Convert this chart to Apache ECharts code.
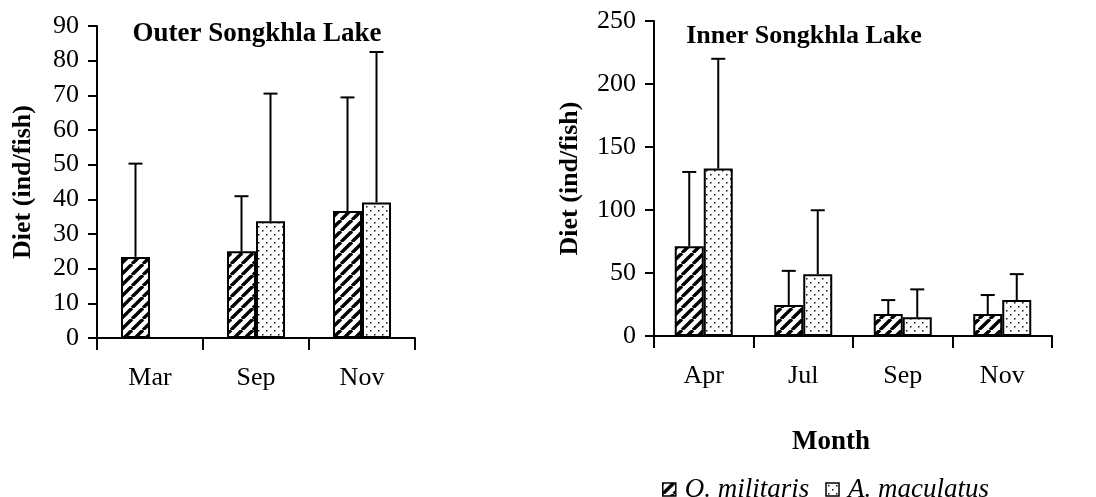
<!DOCTYPE html>
<html>
<head>
<meta charset="utf-8">
<script src="https://cdn.jsdelivr.net/npm/echarts@6/dist/echarts.min.js"></script>
<style>
html,body{margin:0;padding:0;background:#fff;}
#chart{width:1096px;height:497px;}
</style>
</head>
<body>
<div id="chart"></div>
<script>
// ---- Data ----
const leftCategories = ['Mar', 'Sep', 'Nov'];
const leftMilitaris = [23.4, 25.0, 36.6];
const leftMilitarisUpper = [50.3, 40.9, 69.4];
const leftMaculatus = [null, 33.7, 39.1];
const leftMaculatusUpper = [null, 70.5, 82.5];

const rightCategories = ['Apr', 'Jul', 'Sep', 'Nov'];
const rightMilitaris = [71.3, 24.6, 17.4, 17.4];
const rightMilitarisUpper = [130.2, 51.7, 28.5, 32.5];
const rightMaculatus = [132.9, 49.1, 14.8, 28.5];
const rightMaculatusUpper = [220.0, 99.8, 37.0, 49.1];

const leftTicks = { min: 0, max: 90, interval: 10 };
const rightTicks = { min: 0, max: 250, interval: 50 };

const seriesNames = ['O. militaris', 'A. maculatus'];

// ---- Patterns ----
function hatchPattern() {
  const s = 11;
  const c = document.createElement('canvas');
  c.width = s; c.height = s;
  const g = c.getContext('2d');
  g.fillStyle = '#fff'; g.fillRect(0, 0, s, s);
  g.strokeStyle = '#000'; g.lineWidth = 3.4;
  for (let k = -1; k <= 1; k++) {
    g.beginPath();
    g.moveTo(k * s, s);
    g.lineTo(k * s + s, 0);
    g.stroke();
  }
  return c;
}
function dotPattern() {
  const c = document.createElement('canvas');
  c.width = 8; c.height = 8;
  const g = c.getContext('2d');
  g.fillStyle = '#fff'; g.fillRect(0, 0, 8, 8);
  g.fillStyle = '#111';
  g.fillRect(2, 2, 1.5, 1.5);
  g.fillRect(6, 6, 1.5, 1.5);
  return c;
}
const hatchFill = { image: hatchPattern(), repeat: 'repeat' };
const dotFill = { image: dotPattern(), repeat: 'repeat' };

const FONT = "'Liberation Serif', 'Times New Roman', serif";
const BAR_W = 29;

function errorData(means, uppers) {
  const out = [];
  means.forEach((m, i) => {
    if (m != null && uppers[i] != null) out.push([i, m, uppers[i]]);
  });
  return out;
}

function errorSeries(gridIdx, means, uppers, offset) {
  return {
    type: 'custom',
    xAxisIndex: gridIdx, yAxisIndex: gridIdx,
    z: 5,
    silent: true,
    data: errorData(means, uppers),
    renderItem: function (params, api) {
      const idx = api.value(0);
      const base = api.coord([idx, api.value(1)]);
      const top = api.coord([idx, api.value(2)]);
      const x = base[0] + offset;
      const st = { stroke: '#000', lineWidth: 2 };
      return {
        type: 'group',
        children: [
          { type: 'line', shape: { x1: x, y1: base[1], x2: x, y2: top[1] }, style: st },
          { type: 'line', shape: { x1: x - 7, y1: top[1], x2: x + 7, y2: top[1] }, style: st }
        ]
      };
    }
  };
}

function barSeries(gridIdx, name, data, fill) {
  return {
    type: 'bar', name: name,
    xAxisIndex: gridIdx, yAxisIndex: gridIdx,
    data: data,
    barWidth: BAR_W,
    barGap: '0%',
    itemStyle: { color: fill, borderColor: '#000', borderWidth: 2 },
    z: 3
  };
}

function xAxisCfg(gridIdx, cats) {
  return {
    type: 'category', gridIndex: gridIdx, data: cats,
    axisLine: { lineStyle: { color: '#000', width: 2 } },
    axisTick: { show: true, length: 12, lineStyle: { color: '#000', width: 2 } },
    axisLabel: { color: '#000', fontFamily: FONT, fontSize: 26, margin: 27 },
    splitLine: { show: false }
  };
}
function yAxisCfg(gridIdx, t, gap) {
  return {
    type: 'value', gridIndex: gridIdx, min: t.min, max: t.max, interval: t.interval,
    name: 'Diet (ind/fish)', nameLocation: 'middle', nameGap: gap, nameRotate: 90,
    nameTextStyle: { color: '#000', fontFamily: FONT, fontWeight: 'bold', fontSize: 26 },
    axisLine: { show: true, lineStyle: { color: '#000', width: 2 } },
    axisTick: { show: true, length: 9, lineStyle: { color: '#000', width: 2 } },
    axisLabel: { color: '#000', fontFamily: FONT, fontSize: 26, margin: 18 },
    splitLine: { show: false }
  };
}

const chart = echarts.init(document.getElementById('chart'), null, { renderer: 'canvas' });
chart.setOption({
  animation: false,
  backgroundColor: '#fff',
  title: [
    { text: 'Outer Songkhla Lake', left: 252, top: 16, textAlign: 'center',
      textStyle: { fontFamily: FONT, fontWeight: 'bold', fontSize: 27, color: '#000' } },
    { text: 'Inner Songkhla Lake', left: 799, top: 18, textAlign: 'center',
      textStyle: { fontFamily: FONT, fontWeight: 'bold', fontSize: 26, color: '#000' } },
    { text: 'Month', left: 826, top: 424, textAlign: 'center',
      textStyle: { fontFamily: FONT, fontWeight: 'bold', fontSize: 27, color: '#000' } }
  ],
  legend: {
    data: seriesNames,
    left: 657, top: 471,
    icon: 'rect', itemWidth: 13, itemHeight: 13, itemGap: 16,
    itemStyle: { borderColor: '#000', borderWidth: 1.5 },
    textStyle: { fontFamily: FONT, fontStyle: 'italic', fontSize: 27, color: '#000', padding: [0, 0, 0, 4] },
    selectedMode: false
  },
  grid: [
    { left: 97, top: 26, width: 318, height: 312 },
    { left: 654, top: 21, width: 398, height: 315 }
  ],
  xAxis: [xAxisCfg(0, leftCategories), xAxisCfg(1, rightCategories)],
  yAxis: [yAxisCfg(0, leftTicks, 61), yAxisCfg(1, rightTicks, 71)],
  series: [
    barSeries(0, seriesNames[0], leftMilitaris, hatchFill),
    barSeries(0, seriesNames[1], leftMaculatus, dotFill),
    barSeries(1, seriesNames[0], rightMilitaris, hatchFill),
    barSeries(1, seriesNames[1], rightMaculatus, dotFill),
    errorSeries(0, leftMilitaris, leftMilitarisUpper, -BAR_W / 2),
    errorSeries(0, leftMaculatus, leftMaculatusUpper, BAR_W / 2),
    errorSeries(1, rightMilitaris, rightMilitarisUpper, -BAR_W / 2),
    errorSeries(1, rightMaculatus, rightMaculatusUpper, BAR_W / 2)
  ]
});
</script>
</body>
</html>
